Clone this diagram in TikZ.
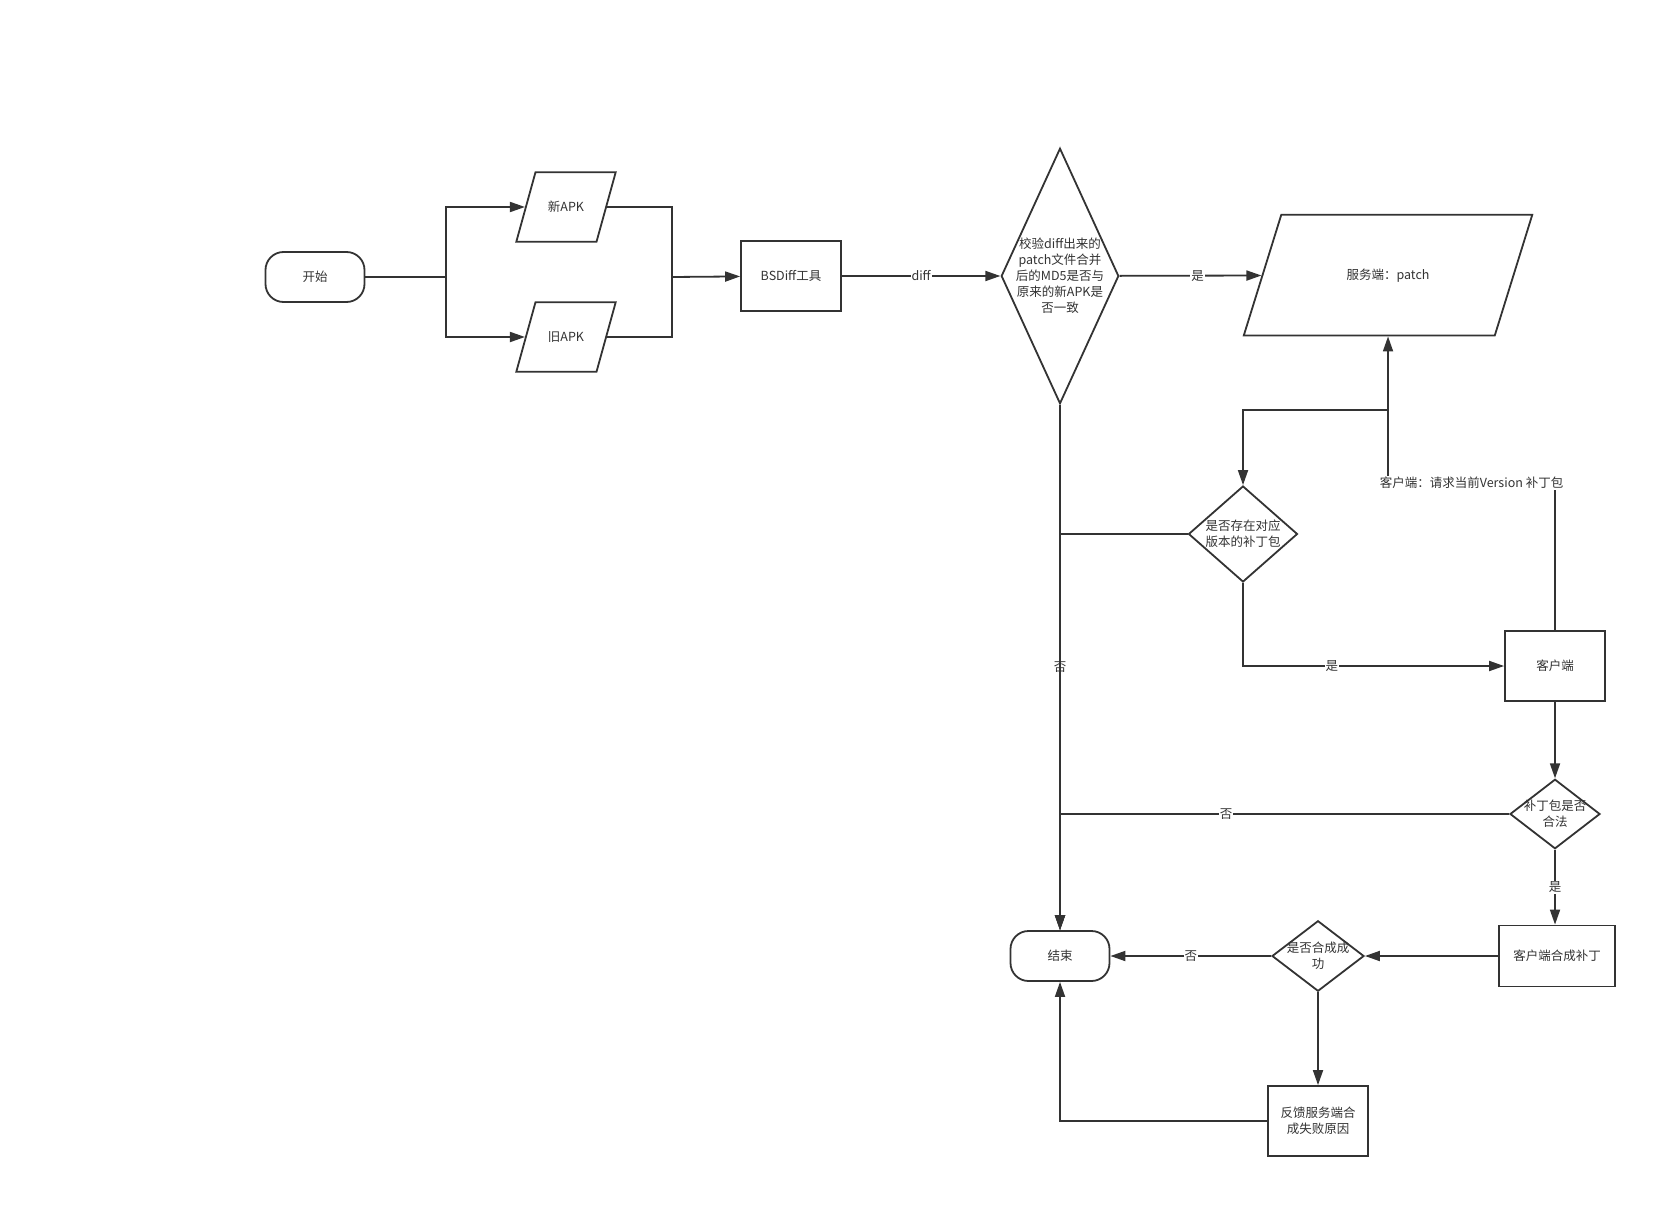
\documentclass[tikz,border=0pt]{standalone}
\usepackage{fontspec}
\setmainfont{Noto Sans CJK SC}
\usetikzlibrary{arrows.meta,shapes.geometric,calc}
\begin{document}
\begin{tikzpicture}[x=1pt, y=-1pt, >={Triangle[length=15pt,width=10pt]},
		font=\fontsize{12.5}{16}\selectfont, line width=1.8pt, line join=miter,
		terminal/.style={draw, rounded corners=18pt, minimum width=99pt, minimum height=50pt, inner sep=0pt},
		process/.style={draw, minimum width=100pt, minimum height=70pt, inner sep=0pt, align=center},
		iobox/.style={draw, trapezium, trapezium left angle=74.57, trapezium right angle=105.43, inner sep=0pt,
			align=center, text width=61pt, text height=39.3pt, text depth=30.3pt},
		decision/.style={draw, diamond, inner sep=0pt, label={[align=center, text=ink]center:#1}},
		lbl/.style={fill=white, inner sep=1pt, text=ink}]
			\definecolor{ink}{HTML}{333333}
			\useasboundingbox[fill=white] (0,0) rectangle (1676,1217);
			\begin{scope}[draw=ink, text=ink]
			% nodes
			\node[terminal] (start) at (315,277) {开始};
			\node[iobox] (newapk) at (566,207) {新APK};
			\node[iobox] (oldapk) at (566,337) {旧APK};
			\node[process] (bsdiff) at (791,276) {BSDiff工具};
			\node[decision={校验diff出来的\\patch文件合并\\后的MD5是否与\\原来的新APK是\\否一致}, minimum width=117.5pt, minimum height=255.5pt] (check) at (1060,276) {};
			\node[iobox, trapezium left angle=72.74, trapezium right angle=107.26, text width=213.5pt, text height=64.85pt, text depth=55.85pt] (server) at (1388,275.2) {服务端：patch};
			\node[decision={是否存在对应\\版本的补丁包}, minimum width=109pt, minimum height=96pt] (hasPatch) at (1243,534) {};
			\node[process] (client) at (1555,666) {客户端};
			\node[decision={补丁包是否\\合法}, minimum width=90pt, minimum height=69.5pt] (valid) at (1555,814) {};
			\node[process, minimum width=115.4pt, minimum height=61pt] (merge) at (1557,956) {客户端合成补丁};
			\node[decision={是否合成成\\功}, minimum width=92pt, minimum height=70.5pt] (merged) at (1318,956) {};
			\node[terminal] (finish) at (1060,956) {结束};
			\node[process] (feedback) at (1318,1121) {反馈服务端合\\成失败原因};
			\coordinate (split) at (446,277);
			\coordinate (join) at (672,277);
			\coordinate (fork) at (1388,410);
			\coordinate (req) at (1388,483);
			% connectors
			\draw (start) -- (split);
			\draw[->] (split) |- (newapk);
			\draw[->] (split) |- (oldapk);
			\draw (newapk) -| (join);
			\draw (oldapk) -| (join);
			\draw[->] (join) -- (bsdiff);
			\draw[->] (bsdiff) -- node[lbl] {diff} (check);
			\draw[->] (check) -- node[lbl, pos=0.55] {是} (server);
			\draw[->] (check) -- node[lbl] {否} (finish);
			\draw[->] (fork) -| (hasPatch);
			\draw[->] (hasPatch) -| (finish);
			\draw[->] (hasPatch) |- node[lbl, pos=0.67] {是} (client);
			\draw[->] (client.north) |- (req) -- (server);
			\node[lbl] (reqlbl) at ($(req)!0.5!(req -| client.north)$) {客户端：请求当前Version 补丁包};
			\draw[->] (client) -- (valid);
			\draw[->] (valid) -- node[lbl] {是} (merge.north -| valid.south);
			\draw[->] (valid) -| node[lbl, pos=0.315] {否} (finish);
			\draw[->] (merge) -- (merged);
			\draw[->] (merged) -- node[lbl] {否} (finish);
			\draw[->] (merged) -- (feedback);
			\draw[->] (feedback) -| (finish);
			\end{scope}
		\end{tikzpicture}
\end{document}
